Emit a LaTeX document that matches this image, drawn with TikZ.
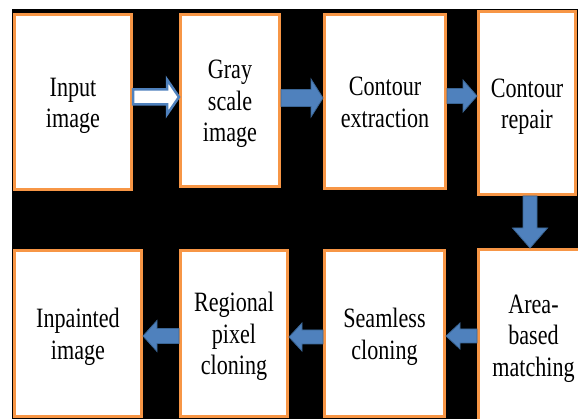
\documentclass[tikz,border=0pt]{standalone}
\usepackage{fontspec}
\setmainfont{Liberation Serif}[FakeStretch=0.79]
\usetikzlibrary{calc}
\definecolor{borderorange}{HTML}{F79646}
\definecolor{arrowblue}{HTML}{4F81BD}
\definecolor{arrowdark}{HTML}{3A6595}
\newcommand\boxlabel[1]{\raisebox{-3.5pt}[\height][\depth]{\begin{tabular}{@{}c@{}}#1\end{tabular}}}
\tikzset{
  box/.style={draw=borderorange, line width=3pt, fill=white, inner sep=0pt,
    font=\fontsize{28}{31.5}\selectfont},
  blockarrow/.style={fill=arrowblue, draw=arrowdark, line width=0.8pt, line join=miter},
  hollowarrow/.style={fill=white, draw=arrowblue, line width=2.5pt, line join=miter},
}
% horizontal block arrow: #1 style, #2 start, #3 end, #4 shaft half, #5 head half, #6 head length
\newcommand\hblockarrow[6]{%
  \path[#1] let \p1=#2, \p2=#3, \n1={ifthenelse(\x2>\x1,1,-1)} in
    (\x1,\y1+#4) -- (\x2-\n1*#6,\y1+#4) -- (\x2-\n1*#6,\y1+#5) -- (\x2,\y1)
    -- (\x2-\n1*#6,\y1-#5) -- (\x2-\n1*#6,\y1-#4) -- (\x1,\y1-#4) -- cycle;}
% vertical (downward) block arrow
\newcommand\vblockarrow[6]{%
  \path[#1] let \p1=#2, \p2=#3 in
    (\x1+#4,\y1) -- (\x1+#4,\y2+#6) -- (\x1+#5,\y2+#6) -- (\x1,\y2)
    -- (\x1-#5,\y2+#6) -- (\x1-#4,\y2+#6) -- (\x1-#4,\y1) -- cycle;}
\begin{document}
\begin{tikzpicture}[x=1pt,y=-1pt]
  \useasboundingbox (0,0) rectangle (578,419);
  \clip (0,0) rectangle (578,419);
  \fill[black] (12,9) rectangle (578,419);

  % boxes
  \node[box, minimum width=117pt, minimum height=175pt] (in)   at (73,102)    {\boxlabel{Input\\image}};
  \node[box, minimum width=99pt,  minimum height=172pt] (gray) at (230,100.5) {\boxlabel{Gray\\scale\\image}};
  \node[box, minimum width=121pt, minimum height=174pt] (ext)  at (385,101.5) {\boxlabel{Contour\\extraction}};
  \node[box, minimum width=97pt,  minimum height=183pt] (rep)  at (527,103)   {\boxlabel{Contour\\repair}};
  \node[box, minimum width=110pt, minimum height=171pt] (area) at (533.5,335) {\boxlabel{Area-\\based\\matching}};
  \node[box, minimum width=120pt, minimum height=166pt] (seam) at (384.5,333.5) {\boxlabel{Seamless\\cloning}};
  \node[box, minimum width=107pt, minimum height=166pt] (reg)  at (234,333.5) {\boxlabel{Regional\\pixel\\cloning}};
  \node[box, minimum width=127pt, minimum height=166pt] (inp)  at (78,333.5)  {\boxlabel{Inpainted\\image}};

  % arrow rows
  \coordinate (r1) at (0,97);
  \coordinate (r2) at (0,98);
  \coordinate (r3) at (0,96);
  \coordinate (r5) at (0,336);
  \coordinate (r6) at (0,337);
  \coordinate (r7) at (0,336);
  \coordinate (c4) at (530,0);

  \hblockarrow{hollowarrow}{(in.east |- r1)}{(gray.west |- r1)}{7.5pt}{17.5pt}{12pt}
  \hblockarrow{blockarrow}{(gray.east |- r2)}{(ext.west |- r2)}{8.5pt}{19pt}{12pt}
  \hblockarrow{blockarrow}{(ext.east |- r3)}{(rep.west |- r3)}{7.5pt}{16pt}{14pt}
  \vblockarrow{blockarrow}{(c4 |- rep.south)}{(c4 |- area.north)}{7pt}{17.5pt}{20pt}
  \hblockarrow{blockarrow}{(area.west |- r5)}{(seam.east |- r5)}{7pt}{13pt}{14pt}
  \hblockarrow{blockarrow}{(seam.west |- r6)}{(reg.east |- r6)}{7pt}{14pt}{13pt}
  \hblockarrow{blockarrow}{(reg.west |- r7)}{(inp.east |- r7)}{7.5pt}{15.5pt}{14pt}
\end{tikzpicture}
\end{document}
